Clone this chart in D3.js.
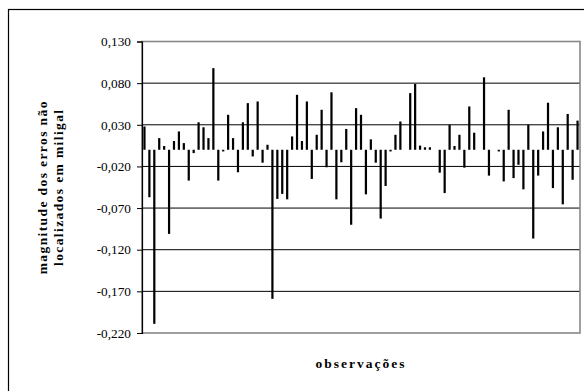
<!DOCTYPE html>
<html><head><meta charset="utf-8">
<script src="https://cdn.jsdelivr.net/npm/d3@7"></script>
<style>
html,body{margin:0;padding:0;background:#fff;}
svg{display:block;}
text{font-family:"Liberation Serif","Times New Roman",serif;}
</style></head>
<body>
<svg id="c" width="584" height="391"></svg>
<script>
const observations = d3.range(1, 90);
const errors = [
  0.028, -0.057, -0.209, 0.014, 0.0045, -0.101, 0.0105, 0.022, 0.008, -0.037,
  -0.004, 0.033, 0.027, 0.014, 0.098, -0.037, -0.002, 0.042, 0.014, -0.027,
  0.033, 0.056, -0.008, 0.058, -0.0155, 0.006, -0.179, -0.059, -0.053, -0.0595,
  0.016, 0.066, 0.0105, 0.058, -0.035, 0.018, 0.048, -0.021, 0.069, -0.0595,
  -0.015, 0.025, -0.09, 0.050, 0.042, -0.0535, 0.0125, -0.0155, -0.0826, -0.0435,
  -0.002, 0.018, 0.034, 0, 0.068, 0.079, 0.005, 0.003, 0.003, 0,
  -0.0275, -0.052, 0.030, 0.0045, 0.018, -0.0215, 0.052, 0.0205, 0, 0.087,
  -0.031, 0, -0.002, -0.038, 0.048, -0.034, -0.018, -0.0475, 0.030, -0.1066,
  -0.031, 0.022, 0.0565, -0.046, 0.027, -0.0655, 0.043, -0.036, 0.035
];
const yTicks = [0.13, 0.08, 0.03, -0.02, -0.07, -0.12, -0.17, -0.22];
const yTitleLines = ["magnitude dos erros não", "localizados em miligal"];
const xTitle = "observações";

const svg = d3.select("#c");
const pL = 142, pR = 580, pT = 41.5, pB = 333;

// outer chart frame (cropped at right/bottom)
svg.append("rect").attr("x", 8.5).attr("y", 9.5).attr("width", 600).attr("height", 400)
  .attr("fill", "none").attr("stroke", "#000").attr("stroke-width", 1.2);

const x = d3.scaleBand().domain(observations).range([pL, pR]).paddingInner(0.55).paddingOuter(0.275);
const y = d3.scaleLinear().domain([-0.22, 0.13]).range([pB, pT]);

// gridlines
svg.append("g").selectAll("line").data(yTicks.slice(1, -1)).join("line")
  .attr("x1", pL).attr("x2", pR)
  .attr("y1", d => y(d)).attr("y2", d => y(d))
  .attr("stroke", "#000").attr("stroke-width", 1);

// plot border
svg.append("rect").attr("x", pL).attr("y", pT).attr("width", pR - pL).attr("height", pB - pT)
  .attr("fill", "none").attr("stroke", "#888").attr("stroke-width", 1.6);

// bars
svg.append("g").selectAll("rect").data(errors).join("rect")
  .attr("x", (d, i) => x(observations[i]))
  .attr("width", x.bandwidth())
  .attr("y", d => y(Math.max(0, d)))
  .attr("height", d => Math.abs(y(d) - y(0)))
  .attr("fill", "#000");

// y axis
const fmt = d => d3.format(".3f")(d).replace(".", ",").replace("−", "-");
const yAxis = d3.axisLeft(y).tickValues(yTicks).tickSize(5).tickPadding(6).tickFormat(fmt);
const ga = svg.append("g").attr("transform", `translate(${pL},0)`).call(yAxis);
ga.select(".domain").attr("stroke", "#000").attr("stroke-width", 1.2);
ga.selectAll(".tick line").attr("stroke", "#000");
ga.selectAll(".tick text").attr("font-family", "Liberation Serif").attr("font-size", 13.3).attr("fill", "#000");

// y title
const yt = svg.append("text").attr("transform", `translate(0,${(pT + pB) / 2}) rotate(-90)`)
  .attr("text-anchor", "middle").attr("font-weight", "bold").attr("font-size", 13.5)
  .attr("letter-spacing", 1.4);
yt.selectAll("tspan").data(yTitleLines).join("tspan")
  .attr("x", 0).attr("y", (d, i) => 47 + i * 16).text(d => d);

// x title
svg.append("text").attr("x", (pL + pR) / 2).attr("y", 368)
  .attr("text-anchor", "middle").attr("font-weight", "bold").attr("font-size", 13.5)
  .attr("letter-spacing", 2).text(xTitle);
</script>
</body></html>
